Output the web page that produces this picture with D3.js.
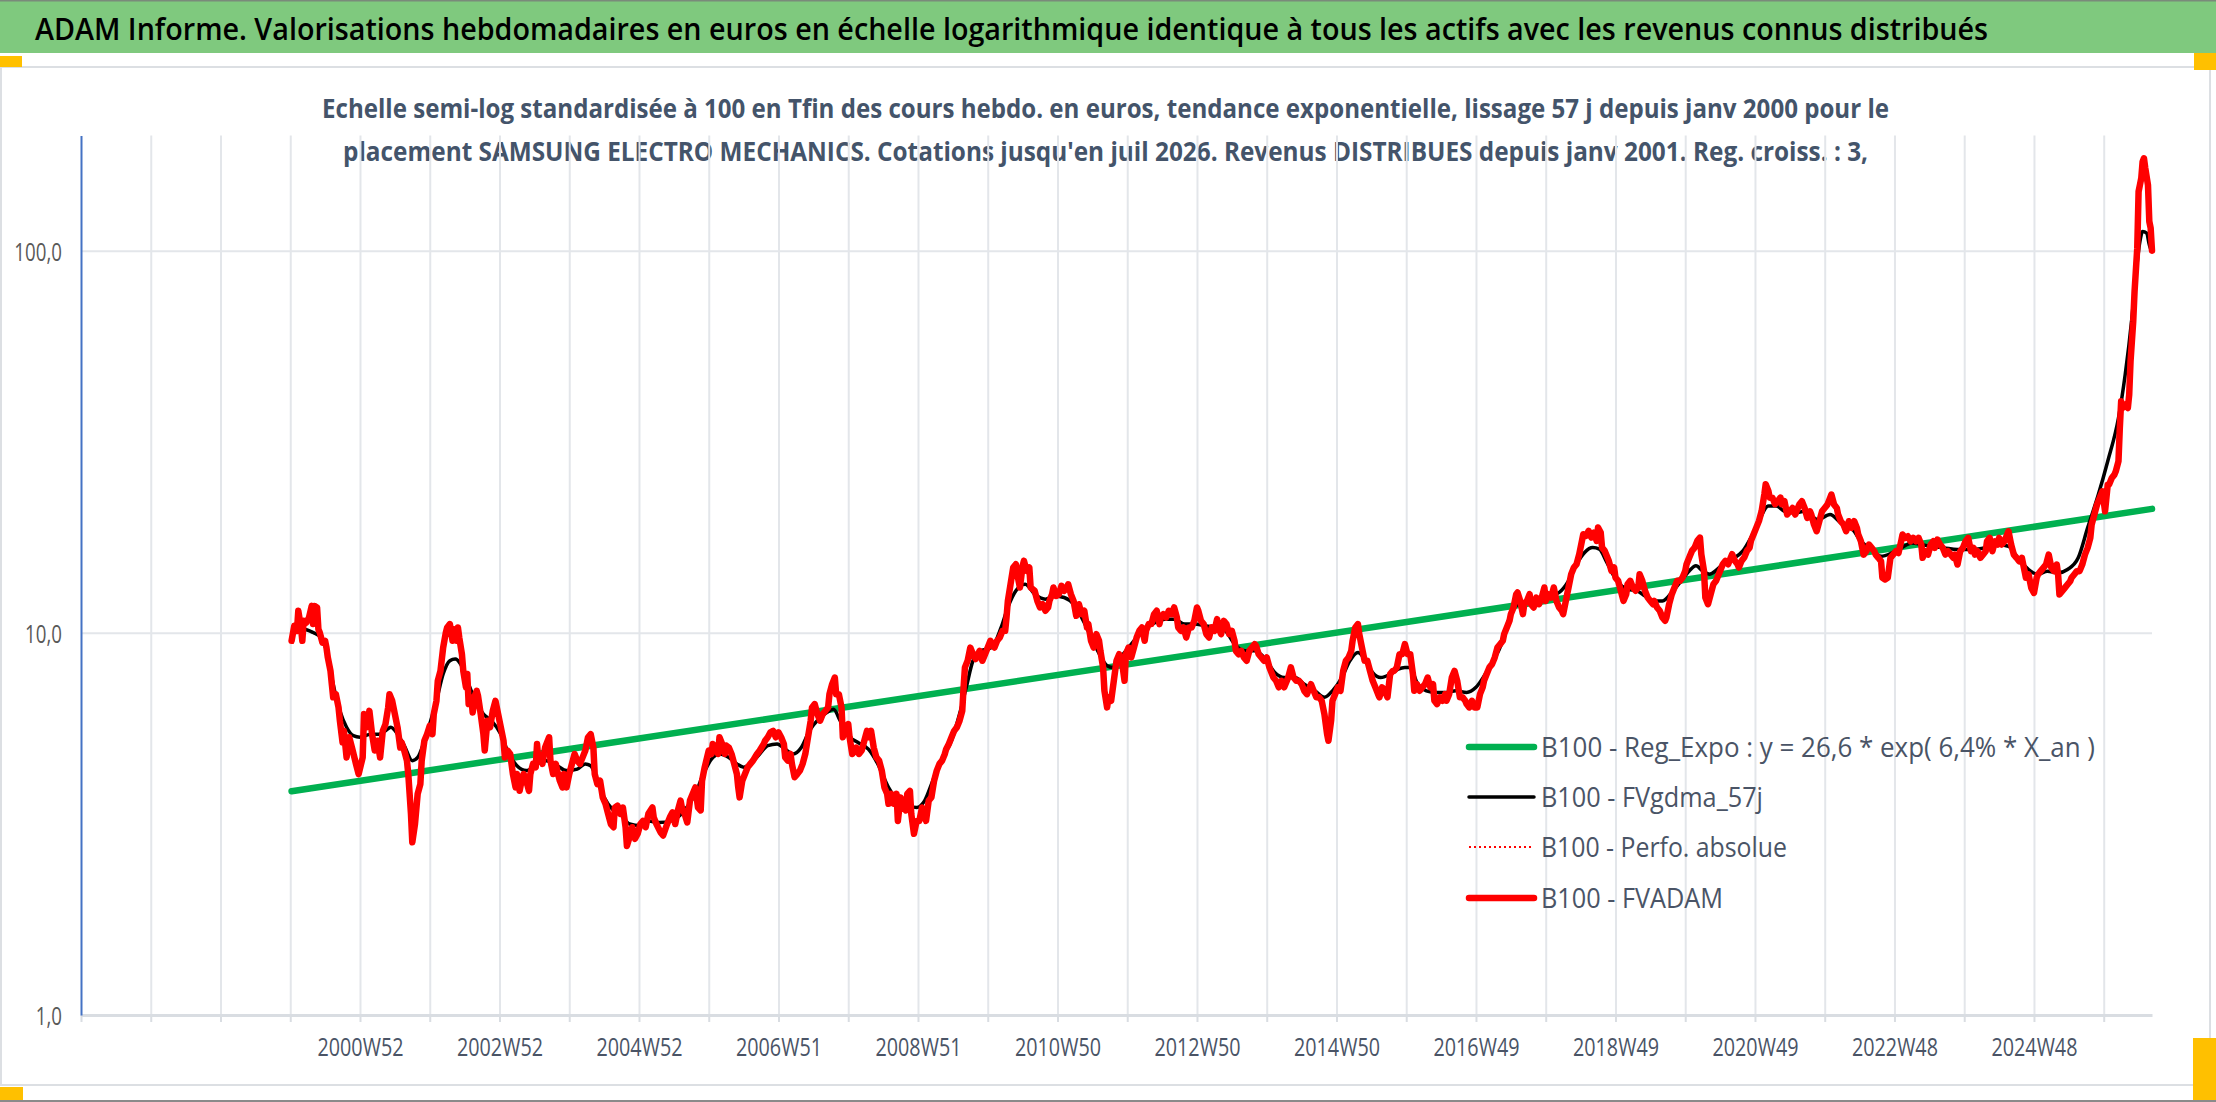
<!DOCTYPE html>
<html lang="fr">
<head>
<meta charset="utf-8">
<title>ADAM Informe - SAMSUNG ELECTRO MECHANICS</title>
<script src="https://cdn.jsdelivr.net/npm/d3@7"></script>
<style>
  body { margin: 0; background: #fff; }
  svg { display: block; font-family: "Open Sans", "Noto Sans", sans-serif; }
</style>
</head>
<body>
<script>
// x = week index (0 = first week of 2000), y = base 100 value
var tickLabels = ["2000W52", "2002W52", "2004W52", "2006W51", "2008W51", "2010W50", "2012W50",
                  "2014W50", "2016W49", "2018W49", "2020W49", "2022W48", "2024W48"];
var yTicks = [1, 10, 100];

var titleText = "ADAM Informe. Valorisations hebdomadaires en euros en échelle logarithmique identique à tous les actifs avec les revenus connus distribués";
var subtitleLines = [
  "Echelle semi-log standardisée à 100 en Tfin des cours hebdo. en euros, tendance exponentielle, lissage 57 j depuis janv 2000 pour le",
  "placement SAMSUNG ELECTRO MECHANICS. Cotations jusqu'en juil 2026. Revenus DISTRIBUES depuis janv 2001. Reg. croiss. : 3,"
];
var legendNames = ["B100 - Reg_Expo : y = 26,6 * exp( 6,4% *  X_an )", "B100 - FVgdma_57j",
                   "B100 - Perfo. absolue", "B100 - FVADAM"];

// exponential trend (straight on the log axis): first and last week
var regExpo = [[1, 3.85], [1388, 21.1]];

// FVgdma_57j (smoothed)
var gdma = [
  [1,10.12],[10,10.22],[17,10.02],[23,9.72],[28,8.71],[32,7.34],[37,6.25],[42,5.66],[47,5.38],[52,5.33],
  [60,5.43],[66,5.43],[71,5.54],[75,5.66],[80,5.43],[85,5.07],[91,4.63],[95,4.72],[100,5.22],[104,5.77],
  [109,6.64],[114,7.80],[119,8.45],[123,8.54],[127,8.28],[132,7.49],[138,6.64],[144,6.13],[150,5.89],
  [157,5.43],[163,4.82],[169,4.49],[176,4.36],[184,4.54],[191,4.63],[199,4.49],[206,4.36],[214,4.40],
  [220,4.54],[224,4.49],[229,4.10],[234,3.71],[240,3.46],[246,3.36],[253,3.16],[261,3.13],[267,3.22],
  [275,3.19],[284,3.22],[294,3.43],[302,3.79],[308,4.27],[314,4.67],[320,4.82],[327,4.72],[333,4.54],
  [338,4.45],[344,4.58],[350,4.82],[356,5.07],[363,5.12],[369,4.96],[375,4.82],[381,5.01],[387,5.54],
  [394,5.95],[400,6.19],[405,6.31],[410,5.89],[416,5.38],[423,5.17],[431,4.96],[438,4.54],[446,3.94],
  [453,3.64],[461,3.53],[467,3.49],[473,3.64],[479,4.10],[485,4.63],[493,5.22],[499,6.13],[504,7.20],
  [509,8.45],[515,8.97],[523,9.15],[530,10.33],[535,11.65],[541,12.88],[548,13.40],
  [555,12.62],[563,12.25],[570,12.49],[577,12.37],[584,11.88],[590,10.97],[596,9.92],[602,8.97],[609,8.20],
  [613,8.12],[618,8.54],[625,9.15],[631,9.72],[637,10.22],[645,10.64],[652,10.86],[659,10.86],[667,10.54],
  [674,10.54],[682,10.43],[689,10.33],[697,10.12],[704,9.34],[712,8.97],[719,8.97],[727,8.54],[734,7.87],
  [741,7.64],[749,7.64],[756,7.34],[764,7.05],[771,6.78],[777,7.05],[784,7.64],[790,8.45],[796,8.88],
  [801,8.54],[807,7.87],[813,7.64],[820,7.80],[826,8.04],[831,8.12],
  [835,8.12],[840,7.42],[847,7.05],[854,6.98],[862,6.98],[869,7.05],[877,6.98],[884,7.20],[891,7.80],
  [897,8.45],[903,9.34],[909,10.97],[915,11.88],[922,12.12],[928,12.25],[934,12.37],[940,12.49],[946,12.75],
  [953,13.68],[959,15.12],[965,16.22],[971,16.71],[976,16.55],[981,15.43],[986,14.24],[991,13.40],[997,13.01],
  [1004,12.88],[1010,12.49],[1016,12.12],[1023,12.12],[1031,12.88],[1037,13.68],[1043,14.52],[1048,14.97],
  [1053,14.52],[1058,14.24],[1064,14.67],[1071,15.43],[1077,15.74],[1083,16.38],[1089,17.75],[1095,19.63],
  [1102,21.48],[1108,21.48],
  [1114,20.80],[1122,20.59],[1129,20.80],[1139,19.78],[1148,20.39],[1156,19.39],[1164,18.82],[1171,17.36],
  [1179,16.51],[1186,15.86],[1194,16.18],[1201,16.68],[1209,17.19],[1216,17.02],[1223,16.85],[1233,16.68],
  [1243,16.51],[1253,16.51],[1263,16.68],[1273,17.02],[1281,16.85],[1288,15.71],[1296,14.64],[1303,14.21],
  [1310,14.50],[1318,14.35],[1325,14.64],[1333,15.71],[1340,18.82],[1348,23.00],[1355,28.11],[1363,36.48],
  [1368,47.36],[1373,66.61],[1376,86.47],[1379,105.7],[1381,112.2],[1384,111.1],[1386,103.6],[1387,101]
];

// FVADAM weekly, 2000 - 2005
var fvadam2000 = [
  [1,9.53],[3,10.43],[5,10.12],[6,11.42],[8,10.33],[9,9.53],[10,10.75],[12,10.64],[14,10.97],[16,11.76],
  [17,10.54],[18,11.76],[20,11.65],[21,10.22],[22,10.02],[24,9.43],[26,9.53],[27,9.15],[28,8.62],[30,7.95],
  [31,7.34],[32,6.78],[34,6.91],[36,6.38],[37,5.89],[39,5.17],[40,5.54],[42,4.72],[44,5.33],[46,5.01],
  [49,4.54],[51,4.27],[54,4.72],[55,6.13],[57,5.66],[59,6.25],[61,5.43],[63,4.92],[65,5.22],[67,4.72],
  [69,5.54],[71,5.77],[73,6.38],[74,6.91],[76,6.64],[78,6.13],[80,5.66],[82,5.01],[83,5.17],[85,4.92],
  [87,4.63],[88,4.27],[90,3.36],[91,2.83],[93,3.16],[95,3.79],[97,4.02],[98,4.63],[100,5.22],[102,5.43],
  [104,5.71],[106,5.43],[107,6.13],[109,6.64],[110,7.49],[112,7.95],[114,9.15],[116,10.02],[117,10.33],
  [119,10.54],[121,9.53],[122,10.22],[124,9.53],[125,10.33],[126,9.72],[128,8.79],[129,7.95],[131,7.20],
  [132,7.80],[133,6.51],[135,6.78],[136,6.19],[138,6.91],[139,7.05],[140,6.84],[142,6.13],[144,5.43],
  [145,4.92],[147,5.89],[149,5.66],[151,6.25],[153,6.64],[155,6.13],[157,5.66],[159,5.22],[160,4.72],
  [162,4.92],[164,4.82],[166,4.27],[168,3.94],[169,4.27],[171,3.86],[173,4.19],[174,4.27],[176,4.10],
  [178,3.86],[179,4.27],[181,4.54],[183,4.45],[184,5.12],[185,4.63],[187,4.72],[188,4.54],[190,5.01],
  [193,5.33],[194,4.63],[196,4.27],[198,4.54],[199,4.36],[201,4.10],[203,3.94],[204,4.27],[206,3.94],
  [208,4.27],[210,4.54],[212,4.82],[214,4.63],[216,4.54],[217,4.63],[220,4.92],[222,5.33],[224,5.43],
  [226,5.01],[227,4.27],[229,4.02],[231,4.10],[233,3.71],[235,3.57],[237,3.36],[239,3.16],[241,3.10],
  [242,3.49],[244,3.53],[246,3.36],[248,3.49],[250,3.10],[251,2.77],[253,2.92],[255,3.10],[257,2.89],
  [259,2.98],[261,3.16],[263,3.22],[265,3.10],[267,3.36],[270,3.49],[271,3.29],[273,3.16]
];

// FVADAM weekly, 2005 - 2010
var fvadam2005 = [
  [276,3.01],[278,2.95],[281,3.16],[283,3.29],[285,3.39],[287,3.16],[289,3.43],[291,3.64],[292,3.49],
  [294,3.36],[296,3.19],[298,3.64],[300,3.79],[302,3.94],[304,3.49],[306,3.43],[307,4.10],[309,4.45],
  [312,4.92],[314,4.82],[315,5.12],[317,5.01],[319,4.82],[320,5.33],[322,5.12],[324,4.82],[325,5.07],
  [327,5.01],[329,4.82],[331,4.54],[333,4.27],[334,3.94],[335,3.71],[337,4.10],[339,4.27],[341,4.45],
  [343,4.54],[345,4.63],[348,4.82],[350,4.92],[353,5.12],[354,5.22],[356,5.33],[358,5.49],[360,5.54],
  [362,5.33],[364,5.49],[366,5.33],[368,5.12],[369,4.72],[371,4.63],[373,4.82],[374,4.54],[376,4.19],
  [378,4.27],[380,4.36],[382,4.54],[384,4.82],[386,5.33],[388,5.89],[389,6.38],[391,6.51],[393,6.13],
  [395,5.89],[397,6.13],[399,6.25],[401,6.38],[402,6.91],[404,7.34],[406,7.64],[407,6.91],[409,6.91],
  [411,6.38],[412,5.33],[414,5.66],[416,5.77],[417,5.33],[419,4.82],[421,4.92],[422,5.01],[424,4.82],
  [426,4.92],[428,5.22],[430,5.54],[431,5.33],[433,5.54],[435,5.01],[437,4.72],[439,4.63],[441,4.36],
  [443,3.94],[445,3.79],[446,3.57],[448,3.79],[450,3.57],[452,3.79],[453,3.22],[455,3.71],[457,3.49],
  [459,3.43],[460,3.79],[462,3.86],[463,3.36],[465,2.98],[467,3.22],[469,3.22],[471,3.49],[473,3.36],
  [474,3.22],[476,3.64],[478,3.71],[480,4.10],[482,4.36],[484,4.54],[486,4.63],[488,4.82],[489,4.96],
  [491,5.12],[493,5.33],[495,5.54],[497,5.66],[499,5.89],[501,6.25],[502,7.20],[503,8.12],[505,8.45],
  [507,9.15],[509,8.79],[511,8.54],[512,8.71],[514,8.97],[516,8.45],[518,8.79],[520,9.15],[522,9.53],
  [523,9.34],[525,9.15],[527,9.53],[529,9.72],[531,10.12],[533,10.12],[534,10.97],[535,12.12],[537,13.40],
  [539,14.82],[541,15.12],[542,14.24],[544,13.14],[546,14.97],[547,15.43],[549,14.52],[551,14.82],[552,13.14]
];

// FVADAM weekly, 2010 - 2016
var fvadam2010 = [
  [555,12.88],[557,12.12],[559,11.65],[561,11.88],[563,11.42],[565,11.65],[566,12.12],[568,12.62],[569,13.14],
  [571,12.49],[573,12.62],[575,13.27],[577,12.88],[579,13.14],[580,13.40],[582,12.62],[584,12.12],[586,11.08],
  [588,11.88],[590,11.19],[592,11.42],[594,10.33],[595,10.54],[597,9.53],[599,9.15],[601,9.92],[603,9.53],
  [604,8.97],[606,8.12],[607,7.05],[609,6.38],[610,6.78],[612,6.64],[614,7.49],[616,8.45],[618,8.79],
  [620,8.45],[622,7.49],[623,8.79],[625,9.15],[627,8.62],[629,9.15],[631,9.72],[633,10.12],[635,10.33],
  [637,9.53],[638,10.12],[640,10.54],[642,10.54],[644,11.19],[646,11.42],[648,10.54],[649,10.97],[651,11.19],
  [653,10.97],[655,11.42],[657,11.19],[659,11.65],[661,10.97],[662,10.33],[664,10.12],[666,10.33],[668,9.72],
  [670,10.33],[672,10.33],[674,10.75],[676,11.65],[677,11.42],[679,10.75],[681,10.54],[683,9.92],[685,9.72],
  [687,10.33],[689,10.12],[691,10.86],[692,10.33],[694,9.92],[696,10.75],[698,10.54],[700,9.92],[702,10.12],
  [704,9.53],[705,8.97],[707,8.79],[709,8.97],[711,8.62],[713,8.45],[715,8.97],[717,9.15],[719,9.34],
  [720,9.25],[722,8.79],[724,8.62],[726,8.45],[728,8.62],[730,8.12],[731,7.95],[733,7.64],[735,7.49],
  [737,7.20],[739,7.49],[741,7.20],[743,7.49],[744,7.64],[746,8.12],[748,7.64],[750,7.49],[752,7.49],
  [754,7.34],[756,7.05],[758,6.91],[759,7.05],[761,7.34],[763,7.05],[765,6.78],[767,6.78],[769,6.64],
  [771,6.13],[773,5.43],[774,5.22],[776,5.89],[777,6.64],[779,6.91],[781,7.20],[783,7.05],[785,7.95],
  [787,8.45],[789,8.62],[791,8.97],[792,9.53],[794,10.33],[796,10.54],[797,9.92],[799,9.15],[801,8.45],
  [803,8.45],[805,7.95],[807,7.49],[809,7.20],[811,6.91],[812,6.78],[814,7.20],[816,7.05],[818,6.78],
  [820,7.80],[822,7.95],[823,7.95],[825,8.12],[827,8.79],[829,8.79],[831,9.34],[833,8.79]
];

// FVADAM weekly, 2016 - 2021
var fvadam2016 = [
  [835,8.79],[837,7.80],[838,7.05],[840,7.34],[842,7.05],[844,7.20],[846,7.34],[848,7.64],[850,7.20],
  [852,7.34],[853,6.64],[855,6.51],[857,6.78],[859,6.64],[861,6.91],[862,6.64],[864,6.91],[866,7.64],
  [868,7.95],[870,7.49],[872,6.78],[874,6.78],[876,6.64],[877,6.51],[879,6.38],[881,6.64],[883,6.38],
  [885,6.38],[887,6.91],[889,7.20],[890,7.49],[892,7.80],[894,8.12],[896,8.28],[898,8.62],[900,9.15],
  [902,9.34],[904,9.53],[905,9.92],[907,10.33],[909,10.75],[910,11.19],[912,11.65],[914,12.62],[915,12.75],
  [917,12.12],[919,11.19],[920,11.88],[922,12.12],[924,12.62],[925,11.88],[927,11.65],[929,12.37],[931,11.88],
  [933,12.37],[935,13.14],[936,12.12],[938,12.62],[940,12.37],[942,13.14],[944,12.12],[946,11.65],[948,11.42],
  [949,11.19],[951,12.12],[953,13.14],[955,14.24],[957,14.82],[959,15.12],[961,16.06],[963,17.40],[964,18.11],
  [966,17.93],[968,18.48],[970,17.75],[972,18.29],[974,17.40],[975,18.85],[977,18.29],[978,16.71],[980,16.38],
  [982,15.74],[983,15.43],[985,14.52],[987,14.82],[988,13.95],[990,13.68],[992,12.88],[994,12.12],[996,12.62],
  [997,13.40],[999,13.68],[1001,13.14],[1003,12.88],[1005,13.14],[1006,14.24],[1008,13.68],[1010,12.88],
  [1012,12.37],[1014,12.12],[1016,11.88],[1017,12.12],[1019,11.65],[1021,11.42],[1023,10.97],[1025,10.75],
  [1026,10.97],[1028,11.88],[1030,12.62],[1032,13.14],[1034,13.68],[1036,13.68],[1038,13.95],[1040,14.52],
  [1041,15.12],[1043,15.74],[1045,16.38],[1047,16.71],[1049,17.40],[1051,17.75],[1052,16.06],[1054,14.52],
  [1055,12.37],[1057,11.88],[1059,12.62],[1061,13.40],[1063,13.68],[1064,13.95],[1066,14.52],[1068,15.12],
  [1070,15.43],[1072,15.12],[1074,15.74],[1075,16.06],[1077,15.43],[1079,15.12],[1080,14.82],[1082,15.43],
  [1084,15.74],[1086,16.38],[1088,16.71],[1089,17.40],[1091,18.11],[1093,18.85],[1095,19.63],[1097,20.84],
  [1099,23.04],[1100,24.47],[1102,23.51],[1103,22.58],[1105,22.58],[1107,21.70],[1109,22.13],[1111,22.58],
  [1112,21.70]
];

// FVADAM weekly, 2021 - 2026
var fvadam2021 = [
  [1114,22.09],[1116,20.39],[1118,20.80],[1120,21.22],[1122,20.39],[1124,21.22],[1125,21.65],[1127,22.09],
  [1129,21.22],[1131,19.98],[1133,20.80],[1134,20.39],[1136,19.20],[1138,18.44],[1140,19.59],[1142,20.80],
  [1144,21.22],[1146,21.65],[1148,22.54],[1149,23.00],[1151,21.65],[1153,21.22],[1154,20.39],[1156,19.59],
  [1158,19.20],[1160,18.44],[1162,19.59],[1164,18.82],[1166,19.59],[1168,18.82],[1169,18.08],[1171,17.36],
  [1173,16.02],[1175,16.35],[1177,17.02],[1179,16.68],[1181,16.35],[1182,16.02],[1184,15.71],[1186,15.39],
  [1187,13.93],[1189,13.79],[1191,13.93],[1193,15.71],[1195,16.02],[1197,16.35],[1199,16.18],[1201,17.36],
  [1202,18.08],[1204,17.72],[1206,17.89],[1208,17.36],[1210,17.72],[1212,17.36],[1214,17.72],[1216,17.02],
  [1217,15.71],[1219,16.35],[1221,16.02],[1223,17.02],[1225,17.36],[1226,16.68],[1228,17.53],[1230,17.02],
  [1232,16.68],[1234,16.02],[1236,16.35],[1238,16.02],[1240,15.71],[1241,16.02],[1243,15.09],[1245,16.35],
  [1247,16.68],[1249,17.36],[1251,17.72],[1253,16.35],[1255,16.68],[1256,16.02],[1258,16.35],[1260,15.71],
  [1262,16.02],[1264,16.35],[1265,17.36],[1267,17.72],[1269,16.35],[1271,17.36],[1273,17.02],[1274,17.72],
  [1276,17.02],[1278,17.36],[1280,18.08],[1281,18.44],[1283,17.02],[1285,16.02],[1287,15.71],[1289,15.39],
  [1291,15.71],[1293,14.50],[1294,13.93],[1296,14.21],[1298,13.11],[1300,12.72],[1302,13.93],[1303,14.21],
  [1305,14.50],[1307,14.79],[1309,15.09],[1311,16.02],[1313,14.79],[1315,14.50],[1317,15.09],[1318,14.21],
  [1319,12.60],[1321,12.85],[1323,13.11],[1325,13.38],[1327,13.65],[1328,13.93],[1330,14.21],[1332,14.50],
  [1334,14.50],[1336,15.09],[1338,16.02],[1340,16.68],[1342,17.72],[1343,19.20],[1345,20.39],[1347,21.65],
  [1349,22.54],[1351,23.46],[1353,20.80],[1355,24.42],[1356,24.42],[1358,25.42],[1360,25.94],[1361,26.46],
  [1363,28.11],[1364,34.35],[1365,40.33],[1366,38.75],[1368,39.53],[1370,38.75],[1371,41.99],[1372,51.32],
  [1374,65.29],[1375,78.21],[1377,101.5],[1378,142.8],[1379,148.6],[1380,154.7],[1381,171.0],[1382,174.5],
  [1383,164.3],[1385,148.6],[1386,119.2],[1387,114.5],[1388,100]
];

var fvadam = fvadam2000.concat(fvadam2005, fvadam2010, fvadam2016, fvadam2021);

var W = 2216, H = 1102;
var plot = { left: 81, right: 2152, top: 135.6, bottom: 1015 };

var svg = d3.select("body").append("svg")
    .attr("width", W)
    .attr("height", H);

// frame of the chart object
svg.append("rect").attr("x", 0).attr("y", 0).attr("width", W).attr("height", H).attr("fill", "#fff");
svg.append("rect")
    .attr("x", 1).attr("y", 67).attr("width", 2209).attr("height", 1018)
    .attr("fill", "#fff").attr("stroke", "#dcdfe3").attr("stroke-width", 2);
svg.append("line").attr("x1", 0).attr("x2", W).attr("y1", 1101).attr("y2", 1101)
    .attr("stroke", "#8a8a8a").attr("stroke-width", 2);

// green banner
svg.append("rect").attr("x", 0).attr("y", 0).attr("width", W).attr("height", 53).attr("fill", "#7fc97e");
svg.append("line").attr("x1", 0).attr("x2", W).attr("y1", 0.5).attr("y2", 0.5)
    .attr("stroke", "#7a8a7a").attr("stroke-width", 2);
svg.append("text")
    .attr("x", 35).attr("y", 40)
    .attr("font-size", 31).attr("font-weight", 600).attr("fill", "#000")
    .attr("textLength", 1953).attr("lengthAdjust", "spacingAndGlyphs")
    .text(titleText);

// yellow selection handles
var handles = [[0, 56, 22, 11], [2194, 53, 22, 17], [0, 1087, 23, 13], [2193, 1038, 23, 62]];
svg.selectAll("rect.handle").data(handles).enter().append("rect")
    .attr("class", "handle")
    .attr("x", function(d) { return d[0]; })
    .attr("y", function(d) { return d[1]; })
    .attr("width", function(d) { return d[2]; })
    .attr("height", function(d) { return d[3]; })
    .attr("fill", "#ffc000");

// subtitle
var subWidths = [1567, 1525];
svg.selectAll("text.sub").data(subtitleLines).enter().append("text")
    .attr("class", "sub")
    .attr("x", 1105.5)
    .attr("y", function(d, i) { return 118 + i * 43; })
    .attr("text-anchor", "middle")
    .attr("font-size", 27).attr("font-weight", 700).attr("fill", "#44546a")
    .attr("textLength", function(d, i) { return subWidths[i]; })
    .attr("lengthAdjust", "spacingAndGlyphs")
    .text(function(d) { return d; });

// scales
var x = d3.scaleLinear().domain([-156, 1388]).range([plot.left, plot.right]);
var y = d3.scaleLog().domain([1, 200]).range([plot.bottom, plot.top]);
var weekTicks = d3.range(-156, 1353, 52);

// vertical gridlines
svg.append("g")
    .attr("transform", "translate(0," + plot.bottom + ")")
    .call(d3.axisBottom(x).tickValues(weekTicks.slice(1)).tickSize(-(plot.bottom - plot.top)).tickFormat(""))
    .call(function(g) { g.select(".domain").remove(); })
    .selectAll("line").attr("stroke", "#e3e6ea").attr("stroke-width", 2);

// horizontal gridlines
svg.append("g")
    .attr("transform", "translate(" + plot.left + ",0)")
    .call(d3.axisLeft(y).tickValues([10, 100]).tickSize(-(plot.right - plot.left)).tickFormat(""))
    .call(function(g) { g.select(".domain").remove(); })
    .selectAll("line").attr("stroke", "#e3e6ea").attr("stroke-width", 2);

// x axis
var gX = svg.append("g")
    .attr("transform", "translate(0," + plot.bottom + ")")
    .call(d3.axisBottom(x).tickValues(weekTicks).tickSizeInner(7).tickSizeOuter(0)
      .tickFormat(function(d) {
        var k = (d - 52) / 104;
        return (k >= 0 && k % 1 === 0 && k < tickLabels.length) ? tickLabels[k] : "";
      }));
gX.select(".domain").attr("stroke", "#d9dde2").attr("stroke-width", 3);
gX.selectAll(".tick line").attr("stroke", "#d9dde2").attr("stroke-width", 2);
gX.selectAll(".tick text")
    .attr("y", 41).attr("dy", 0)
    .attr("font-family", "Open Sans").attr("font-size", 25).attr("fill", "#4a5466")
    .each(function() {
      if (this.textContent) d3.select(this).attr("textLength", 86).attr("lengthAdjust", "spacingAndGlyphs");
    });

// y axis
var gY = svg.append("g")
    .attr("transform", "translate(" + plot.left + ",0)")
    .call(d3.axisLeft(y).tickValues(yTicks).tickSize(0).tickPadding(19)
      .tickFormat(function(d) { return d3.format(".1f")(d).replace(".", ","); }));
gY.select(".domain").attr("stroke", "#4472c4").attr("stroke-width", 2);
gY.selectAll(".tick text")
    .attr("font-family", "Open Sans").attr("font-size", 26).attr("fill", "#595959")
    .attr("dy", "0.36em")
    .each(function() {
      var w = this.getComputedTextLength();
      d3.select(this).attr("textLength", w * 0.72).attr("lengthAdjust", "spacingAndGlyphs");
    });

// series
var line = d3.line()
    .x(function(d) { return x(d[0]); })
    .y(function(d) { return y(d[1]); });

svg.append("path").datum(regExpo)
    .attr("d", line).attr("fill", "none")
    .attr("stroke", "#00b050").attr("stroke-width", 6.5).attr("stroke-linecap", "round");

svg.append("path").datum(gdma)
    .attr("d", line.curve(d3.curveMonotoneX)).attr("fill", "none")
    .attr("stroke", "#000").attr("stroke-width", 3.5).attr("stroke-linejoin", "round");

line.curve(d3.curveLinear);

svg.append("path").datum(fvadam)
    .attr("d", line).attr("fill", "none")
    .attr("stroke", "#ff0000").attr("stroke-width", 2).attr("stroke-dasharray", "2,3");

svg.append("path").datum(fvadam)
    .attr("d", line).attr("fill", "none")
    .attr("stroke", "#ff0000").attr("stroke-width", 6.5).attr("stroke-linejoin", "round")
    .attr("stroke-linecap", "round");

// legend
var legendStyles = [
  { color: "#00b050", width: 6.5, dash: null },
  { color: "#000000", width: 3.5, dash: null },
  { color: "#ff0000", width: 2, dash: "2,3" },
  { color: "#ff0000", width: 6.5, dash: null }
];
var legendRows = [747, 797, 847, 898];
var legendWidths = [554, 222, 246, 182];

var legend = svg.selectAll("g.legend").data(legendNames).enter().append("g")
    .attr("class", "legend")
    .attr("transform", function(d, i) { return "translate(0," + legendRows[i] + ")"; });
legend.append("line")
    .attr("x1", 1469).attr("x2", 1534)
    .attr("stroke", function(d, i) { return legendStyles[i].color; })
    .attr("stroke-width", function(d, i) { return legendStyles[i].width; })
    .attr("stroke-dasharray", function(d, i) { return legendStyles[i].dash; })
    .attr("stroke-linecap", function(d, i) { return legendStyles[i].dash ? "butt" : "round"; });
legend.append("text")
    .attr("x", 1541).attr("y", 10)
    .attr("font-size", 28).attr("fill", "#4a5466")
    .attr("textLength", function(d, i) { return legendWidths[i]; })
    .attr("lengthAdjust", "spacingAndGlyphs")
    .text(function(d) { return d; });
</script>
</body>
</html>
